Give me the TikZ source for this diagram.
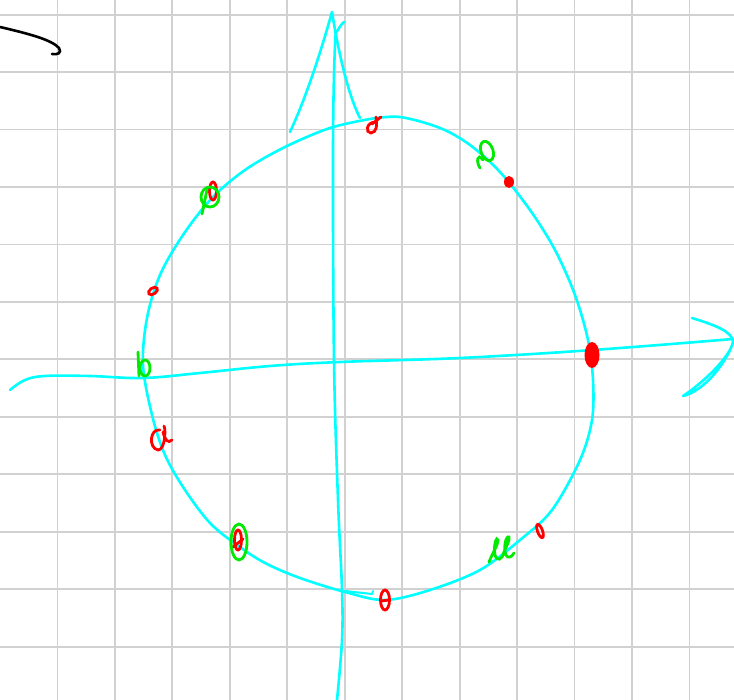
\documentclass[tikz,border=0pt]{standalone}
\definecolor{cy}{RGB}{0,255,255}
\definecolor{gr}{RGB}{0,235,0}
\begin{document}
\begin{tikzpicture}[x=1pt,y=-1pt,
  gridline/.style={draw=black!18,line width=1.8pt},
  cyanpen/.style={draw=cy,line width=2.6pt,line cap=round,line join=round},
  redpen/.style={draw=red,line width=2.8pt,line cap=round},
  greenpen/.style={draw=gr,line width=2.8pt,line cap=round},
  blackpen/.style={draw=black,line width=2.6pt,line cap=round}]
\useasboundingbox[fill=white] (0,0) rectangle (734,700);
% grid
\foreach \k in {1,...,12} \draw[gridline] ({57.45*\k},0) -- ({57.45*\k},700);
\foreach \k in {0,...,11} \draw[gridline] (0,{14.7+57.45*\k}) -- (734,{14.7+57.45*\k});
% black stroke
\draw[blackpen] (0,27) .. controls (30,34) and (52,40) .. (59,48) .. controls (62,53) and (58,55) .. (52,54);
% circle
\draw[cyanpen] plot[smooth,tension=0.55] coordinates {(370,119) (400,117) (440,128) (470,145) (500,172) (530,210) (555,250) (575,295) (588,340) (593,380) (592,420) (580,460) (552,510) (520,540) (480,570) (430,590) (385,600) (345,592) (300,578) (265,563) (237,545) (210,523) (185,490) (165,455) (152,415) (143,365) (147,318) (160,275) (183,235) (212,198) (245,170) (285,147) (330,128) (370,119)};
\draw[cyanpen,line width=2pt] (345,591) -- (372,594) -- (373,591);
% vertical axis
\draw[cyanpen] plot[smooth,tension=0.6] coordinates {(344,22) (338,30) (335,45) (333,150) (334,360) (338,500) (342,590) (342,640) (337,700)};
\draw[cyanpen] (290,132) .. controls (305,100) and (320,55) .. (332,12) .. controls (338,50) and (348,95) .. (360,118);
% horizontal axis
\draw[cyanpen] plot[smooth,tension=0.6] coordinates {(10,390) (25,380) (45,376) (90,376) (143,378) (200,373) (270,366) (340,362) (460,358) (593,350) (733,339)};
\draw[cyanpen] (692,318) .. controls (715,325) and (733,332) .. (733,342) .. controls (730,358) and (700,385) .. (683,396) .. controls (700,392) and (720,372) .. (731,348);
% red marks
\draw[redpen] (376,117) .. controls (377,126) and (377,132) .. (371,133) .. controls (365,133) and (366,122) .. (376,122);
\draw[redpen] (372,124) -- (381,117);
\fill[red] (509,182) ellipse[x radius=5,y radius=6];
\draw[redpen] (213,191) ellipse[x radius=3.5,y radius=9];
\draw[redpen,rotate around={35:(153,291)}] (153,291) ellipse[x radius=5,y radius=3];
\draw[redpen] (160,430) .. controls (150,428) and (148,448) .. (158,450) .. controls (165,450) and (166,430) .. (164,426) (163,432) .. controls (165,440) and (168,444) .. (172,440);
\draw[redpen] (238,540) ellipse[x radius=3.5,y radius=10];
\draw[redpen] (233,547) -- (243,539);
\draw[redpen] (385,600) ellipse[x radius=4.5,y radius=10];
\draw[redpen] (381,601) -- (389,600);
\draw[redpen,rotate around={20:(540,531)}] (540,531) ellipse[x radius=2.5,y radius=7];
\fill[red] (592,355) ellipse[x radius=7.5,y radius=13];
% green marks
\draw[greenpen,rotate around={20:(487,151)}] (487,151) ellipse[x radius=6,y radius=10];
\draw[greenpen] (483,160) .. controls (477,152) and (476,162) .. (480,168);
\draw[greenpen] (210,197) ellipse[x radius=9,y radius=10];
\draw[greenpen] (207,190) -- (202,214);
\draw[greenpen] (138,352) -- (139,376);
\draw[greenpen] (145,368) ellipse[x radius=5,y radius=8];
\draw[greenpen] (239,542) ellipse[x radius=8,y radius=18];
\draw[greenpen] (489,562) .. controls (493,552) and (498,545) .. (498,540) .. controls (497,535) and (493,545) .. (495,555) .. controls (497,562) and (502,560) .. (504,552) .. controls (507,545) and (510,540) .. (509,537) .. controls (506,535) and (503,548) .. (506,555) .. controls (508,559) and (512,557) .. (514,553);
\end{tikzpicture}
\end{document}
